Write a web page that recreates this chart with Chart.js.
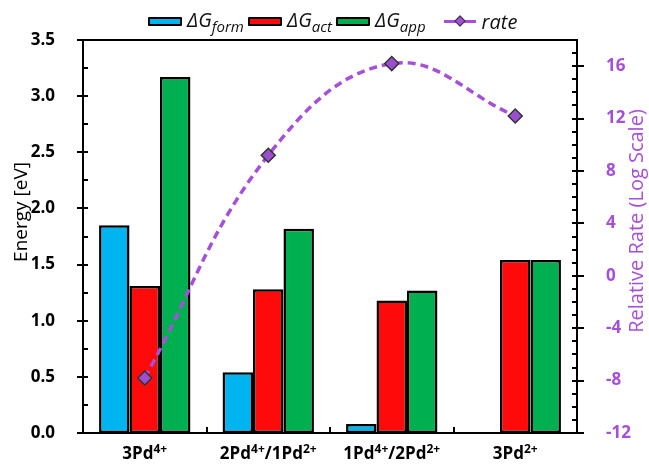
<!DOCTYPE html>
<html>
<head>
<meta charset="utf-8">
<script src="https://cdn.jsdelivr.net/npm/chart.js@4.4.1/dist/chart.umd.min.js"></script>
<style>
  body { margin: 0; background: #fff; }
  #wrap { position: relative; width: 649px; height: 465px; }
  #legend { position: absolute; left: 148px; top: 6px; display: flex; align-items: center;
            font-family: "Open Sans", sans-serif; font-style: italic; font-size: 20px; color: #111; white-space: nowrap; }
  #legend .item { display: flex; align-items: center; margin-right: 4px; }
  #legend .sw { width: 30px; height: 5px; border: 2px solid #000; border-radius: 1px; margin-right: 5px; }
  #legend sub { font-size: 15px; vertical-align: -5px; }
  #legend .ln { position: relative; width: 32px; height: 3px; margin: 0 6px 0 6px; }
  #legend .ln i { position: absolute; left: 12px; top: -3px; width: 6px; height: 6px; transform: rotate(45deg);
                  border: 1px solid #333; }
</style>
</head>
<body>
<div id="wrap">
  <canvas id="chart"></canvas>
  <div id="legend"></div>
</div>
<script>
const categories = ['3Pd⁴⁺', '2Pd⁴⁺/1Pd²⁺', '1Pd⁴⁺/2Pd²⁺', '3Pd²⁺'];
const dgForm = [1.85, 0.54, 0.08, null];
const dgAct = [1.31, 1.28, 1.18, 1.54];
const dgApp = [3.17, 1.82, 1.27, 1.54];
const rate = [-7.8, 9.2, 16.2, 12.2];

const seriesNames = [['ΔG', 'form'], ['ΔG', 'act'], ['ΔG', 'app'], ['rate', '']];
const barColors = ['#00B4F0', '#FF0A0A', '#00B050'];
const purple = '#A64FD8';
const FONT = '"Open Sans", sans-serif';

// html legend, because the names need subscripts
const legend = document.getElementById('legend');
seriesNames.forEach((n, i) => {
    const item = document.createElement('div');
    item.className = 'item';
    if (i < 3) {
        item.innerHTML = '<span class="sw" style="background:' + barColors[i] + '"></span>' +
            '<span>' + n[0] + '<sub>' + n[1] + '</sub></span>';
    } else {
        item.innerHTML = '<span class="ln" style="background:' + purple + '"><i style="background:' + purple + '"></i></span>' +
            '<span>' + n[0] + '</span>';
        item.style.marginLeft = '8px';
    }
    legend.appendChild(item);
});

const supMap = { '⁰': '0', '¹': '1', '²': '2', '³': '3', '⁴': '4', '⁵': '5', '⁶': '6', '⁷': '7', '⁸': '8', '⁹': '9', '⁺': '+', '⁻': '-' };

function splitSup(label) {
    const parts = [];
    for (const ch of label) {
        const sup = ch in supMap;
        const c = sup ? supMap[ch] : ch;
        if (parts.length && parts[parts.length - 1].sup === sup) parts[parts.length - 1].text += c;
        else parts.push({ text: c, sup: sup });
    }
    return parts;
}

const extras = {
    id: 'extras',
    afterDraw(chart) {
        const ctx = chart.ctx;
        const { left, right, top, bottom } = chart.chartArea;
        const y = chart.scales.y, y2 = chart.scales.y2, x = chart.scales.x;
        ctx.save();
        ctx.strokeStyle = '#000';
        ctx.lineWidth = 2;
        ctx.beginPath();
        // top frame line
        ctx.moveTo(left - 1, top);
        ctx.lineTo(right + 1, top);
        // left axis ticks
        for (let v = 0; v <= 3.5001; v += 0.25) {
            const py = Math.round(y.getPixelForValue(v));
            const major = Math.abs(v * 2 - Math.round(v * 2)) < 1e-6;
            ctx.moveTo(major ? left - 6 : left, py);
            ctx.lineTo(left + 5, py);
        }
        // right axis ticks
        for (let v = -12; v <= 18; v += 1) {
            const py = Math.round(y2.getPixelForValue(v));
            const major = (v + 12) % 4 === 0;
            ctx.moveTo(right - 5, py);
            ctx.lineTo(major ? right + 7 : right, py);
        }
        // category separators on the x axis
        for (let i = 0; i < categories.length - 1; i++) {
            const px = Math.round((x.getPixelForValue(i) + x.getPixelForValue(i + 1)) / 2);
            ctx.moveTo(px, bottom);
            ctx.lineTo(px, bottom - 6);
        }
        ctx.stroke();

        // x labels with superscripts
        ctx.fillStyle = '#000';
        ctx.textBaseline = 'alphabetic';
        categories.forEach((lab, i) => {
            const parts = splitSup(lab);
            let w = 0;
            parts.forEach(p => {
                ctx.font = 'bold ' + (p.sup ? 12 : 17) + 'px ' + FONT;
                p.w = ctx.measureText(p.text).width;
                w += p.w;
            });
            let px = x.getPixelForValue(i) - w / 2;
            parts.forEach(p => {
                ctx.font = 'bold ' + (p.sup ? 12 : 17) + 'px ' + FONT;
                ctx.textAlign = 'left';
                ctx.fillText(p.text, px, p.sup ? 453 : 459);
                px += p.w;
            });
        });

        // axis titles, both reading bottom to top
        ctx.textAlign = 'center';
        ctx.textBaseline = 'middle';
        ctx.font = '19px ' + FONT;
        ctx.fillStyle = '#000';
        ctx.save();
        ctx.translate(22, 212);
        ctx.rotate(-Math.PI / 2);
        ctx.fillText('Energy [eV]', 0, 0);
        ctx.restore();
        ctx.font = '20px ' + FONT;
        ctx.fillStyle = purple;
        ctx.save();
        ctx.translate(637, 221);
        ctx.rotate(-Math.PI / 2);
        ctx.fillText('Relative Rate (Log Scale)', 0, 0);
        ctx.restore();
        ctx.restore();
    }
};

const barBase = { borderColor: '#000', borderWidth: 2.5, borderSkipped: false, yAxisID: 'y', order: 1,
                  categoryPercentage: 0.74, barPercentage: 1.0 };

new Chart(document.getElementById('chart'), {
    type: 'bar',
    data: {
        labels: categories,
        datasets: [
            {
                type: 'line', label: 'rate', data: rate, yAxisID: 'y2', order: 0,
                borderColor: purple, borderWidth: 3.5, borderDash: [8, 5], tension: 0.4, fill: false,
                pointStyle: 'rectRot', pointRadius: 7, pointBackgroundColor: '#9B4FD0',
                pointBorderColor: '#333', pointBorderWidth: 1.5
            },
            Object.assign({ label: 'ΔG form', data: dgForm, backgroundColor: barColors[0] }, barBase),
            Object.assign({ label: 'ΔG act', data: dgAct, backgroundColor: barColors[1] }, barBase),
            Object.assign({ label: 'ΔG app', data: dgApp, backgroundColor: barColors[2] }, barBase)
        ]
    },
    options: {
        responsive: true,
        maintainAspectRatio: false,
        animation: false,
        layout: { padding: { top: 40, left: 0, right: 0, bottom: 0 } },
        plugins: { legend: { display: false }, tooltip: { enabled: false } },
        scales: {
            x: {
                grid: { display: false },
                border: { display: true, color: '#000', width: 2 },
                ticks: { display: false },
                afterFit: s => { s.height = 32; }
            },
            y: {
                position: 'left', min: 0, max: 3.5,
                grid: { display: false },
                border: { display: true, color: '#000', width: 2 },
                ticks: { stepSize: 0.5, padding: 20, color: '#000',
                         font: { family: FONT, size: 17, weight: 'bold' },
                         callback: v => v.toFixed(1) },
                afterFit: s => { s.width = 83; }
            },
            y2: {
                position: 'right', min: -12, max: 18,
                grid: { display: false },
                border: { display: true, color: '#000', width: 2 },
                ticks: { stepSize: 4, padding: 21, color: purple,
                         font: { family: FONT, size: 17, weight: 'bold' },
                         callback: v => ((v + 12) % 4 === 0 && v < 17) ? v : '' },
                afterFit: s => { s.width = 72; }
            }
        }
    },
    plugins: [extras]
});
</script>
</body>
</html>
